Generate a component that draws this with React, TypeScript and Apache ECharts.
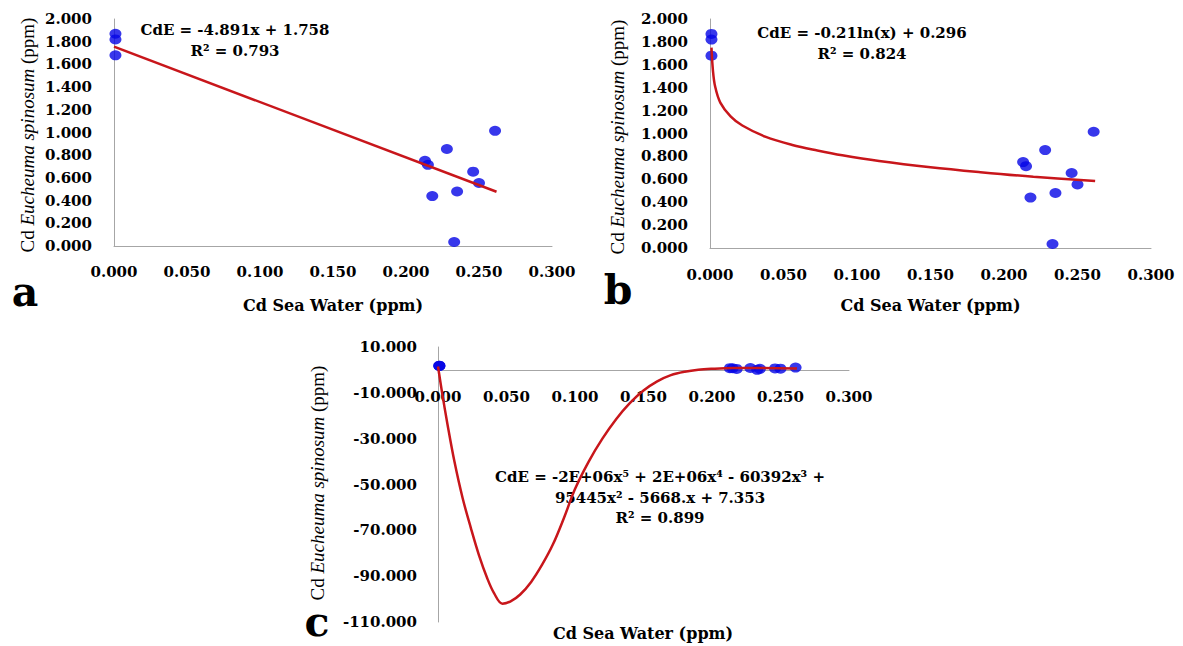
import React, { useEffect, useRef } from "react";
import * as echarts from "echarts";

// Measured data (Cd in sea water vs Cd in Eucheuma spinosum), ppm
const seaWater = [0.001, 0.001, 0.001, 0.213, 0.215, 0.218, 0.228, 0.233, 0.235, 0.246, 0.25, 0.261];
const eucheuma = [1.87, 1.82, 1.68, 0.75, 0.715, 0.44, 0.855, 0.035, 0.48, 0.655, 0.555, 1.015];

// Trend line (a): linear
const linFitX = [0, 0.262];
const linFitY = [1.756, 0.478];

// Trend line (b): logarithmic
const logFitX = [0.001, 0.002, 0.0035, 0.007, 0.014, 0.022, 0.038, 0.056, 0.073, 0.09, 0.115, 0.15, 0.184, 0.22, 0.262];
const logFitY = [1.75, 1.55, 1.41, 1.27, 1.15, 1.07, 0.97, 0.9, 0.852, 0.81, 0.76, 0.705, 0.662, 0.622, 0.585];

// Trend line (c): polynomial
const polyFitX = [0, 0.003, 0.007, 0.012, 0.018, 0.024, 0.03, 0.036, 0.041, 0.047, 0.053, 0.06, 0.068, 0.076, 0.084, 0.092, 0.1, 0.11, 0.12, 0.13, 0.14, 0.15, 0.16, 0.17, 0.18, 0.19, 0.2, 0.215, 0.235, 0.262];
const polyFitY = [1.5, -10, -24, -40, -56, -69, -81, -91, -97.5, -102, -101, -98, -92.5, -85, -76, -64.5, -52, -40, -30, -21.5, -14.5, -9, -5, -2.3, -0.8, 0.1, 0.5, 0.8, 0.8, 0.6];

const equationA = ["CdE = -4.891x + 1.758", "R² = 0.793"];
const equationB = ["CdE = -0.21ln(x) + 0.296", "R² = 0.824"];
const equationC = ["CdE = -2E+06x⁵ + 2E+06x⁴ - 60392x³ +", "95445x² - 5668.x + 7.353", "R² = 0.899"];

const xTitle = "Cd Sea Water (ppm)";
const yTitle = "Cd {i|Eucheuma spinosum} (ppm)";

const BOLD = "'DejaVu Serif'";
const SERIF = "'Liberation Serif'";
const BLUE = "#0505e6";
const RED = "#c8161b";
const AXIS_GRAY = "#a6a6a6";

const pairs = (xs: number[], ys: number[]) => xs.map((x, i) => [x, ys[i]]);

export default function App() {
  const ref = useRef<HTMLDivElement>(null);

  useEffect(() => {
    document.body.style.margin = "0";
    if (!ref.current) return;
    const chart = echarts.init(ref.current, undefined, { renderer: "svg" });

    const labelStyle = {
      fontFamily: BOLD,
      fontWeight: "bold" as const,
      fontSize: 15,
      color: "#000",
    };
    const fmt = (v: number) => v.toFixed(3);
    const line = { show: true, onZero: false, lineStyle: { color: AXIS_GRAY, width: 1 } };
    const baseAxis = {
      type: "value" as const,
      axisLine: line,
      axisTick: { show: false },
      splitLine: { show: false },
    };
    const xName = {
      name: xTitle,
      nameLocation: "middle" as const,
      nameTextStyle: { fontFamily: BOLD, fontWeight: "bold", fontSize: 16, color: "#000" },
    };

    const eqText = (lines: string[], cx: number, ys: number[]) =>
      lines.map((t, i) => ({
        type: "text",
        x: cx,
        y: ys[i],
        style: {
          text: t,
          fill: "#000",
          font: `bold 15px ${BOLD}`,
          align: "center",
          verticalAlign: "middle",
        },
      }));

    const letter = (t: string, x: number, y: number) => ({
      type: "text",
      x,
      y,
      style: { text: t, fill: "#000", font: `bold 41px ${BOLD}`, align: "center", verticalAlign: "middle" },
    });

    const yTitleText = (x: number, y: number) => ({
      type: "text",
      x,
      y,
      rotation: Math.PI / 2,
      style: {
        text: yTitle,
        fill: "#000",
        font: `19px ${SERIF}`,
        align: "center",
        verticalAlign: "middle",
        rich: {
          i: { fontFamily: SERIF, fontSize: 19, fontStyle: "italic", fill: "#000" },
        },
      },
    });

    const scatter = (idx: number) => ({
      type: "scatter",
      xAxisIndex: idx,
      yAxisIndex: idx,
      data: pairs(seaWater, eucheuma),
      symbol: "circle",
      symbolSize: [12, 10],
      itemStyle: { color: BLUE },
      z: 2,
    });
    const fitLine = (idx: number, xs: number[], ys: number[], smooth: boolean) => ({
      type: "line",
      xAxisIndex: idx,
      yAxisIndex: idx,
      data: pairs(xs, ys),
      showSymbol: false,
      smooth: smooth ? 0.35 : false,
      lineStyle: { color: RED, width: 2.5 },
      z: 3,
    });

    chart.setOption({
      animation: false,
      backgroundColor: "#fff",
      grid: [
        { left: 114, top: 19, width: 438, height: 227 },
        { left: 710, top: 19, width: 441, height: 229 },
        { left: 438, top: 347, width: 411, height: 275 },
        // strip above the zero line of panel c: carries the x axis at y = 0
        { left: 438, top: 347, width: 411, height: 23 },
      ],
      xAxis: [
        {
          ...baseAxis, ...xName, gridIndex: 0, min: 0, max: 0.3, interval: 0.05, nameGap: 51,
          axisLabel: { ...labelStyle, formatter: fmt, margin: 18 },
        },
        {
          ...baseAxis, ...xName, gridIndex: 1, min: 0, max: 0.3, interval: 0.05, nameGap: 49,
          axisLabel: { ...labelStyle, formatter: fmt, margin: 19 },
        },
        {
          ...baseAxis, gridIndex: 2, min: 0, max: 0.3, interval: 0.05,
          axisLine: { show: false }, axisLabel: { show: false },
        },
        {
          ...baseAxis, gridIndex: 3, min: 0, max: 0.3, interval: 0.05, position: "bottom",
          axisLabel: { ...labelStyle, formatter: fmt, margin: 19 },
        },
      ],
      yAxis: [
        {
          ...baseAxis, gridIndex: 0, min: 0, max: 2, interval: 0.2,
          axisLabel: { ...labelStyle, formatter: fmt, margin: 22 },
        },
        {
          ...baseAxis, gridIndex: 1, min: 0, max: 2, interval: 0.2,
          axisLabel: { ...labelStyle, formatter: fmt, margin: 22 },
        },
        {
          ...baseAxis, gridIndex: 2, min: -110, max: 10, interval: 20,
          axisLabel: { ...labelStyle, formatter: fmt, margin: 21 },
        },
        { type: "value", gridIndex: 3, min: 0, max: 10, show: false },
      ],
      series: [
        scatter(0),
        fitLine(0, linFitX, linFitY, false),
        scatter(1),
        fitLine(1, logFitX, logFitY, true),
        scatter(2),
        fitLine(2, polyFitX, polyFitY, true),
      ],
      graphic: [
        ...eqText(equationA, 235, [30, 51]),
        ...eqText(equationB, 862, [33, 54]),
        ...eqText(equationC, 660, [477, 498, 518]),
        yTitleText(27, 135),
        yTitleText(617, 137),
        yTitleText(317, 483),
        letter("a", 25, 292),
        letter("b", 618, 290),
        letter("c", 317, 622),
        {
          type: "text",
          x: 643,
          y: 633,
          style: { text: xTitle, fill: "#000", font: `bold 16px ${BOLD}`, align: "center", verticalAlign: "middle" },
        },
      ],
    });

    return () => chart.dispose();
  }, []);

  return <div ref={ref} style={{ width: 1183, height: 646 }} />;
}
